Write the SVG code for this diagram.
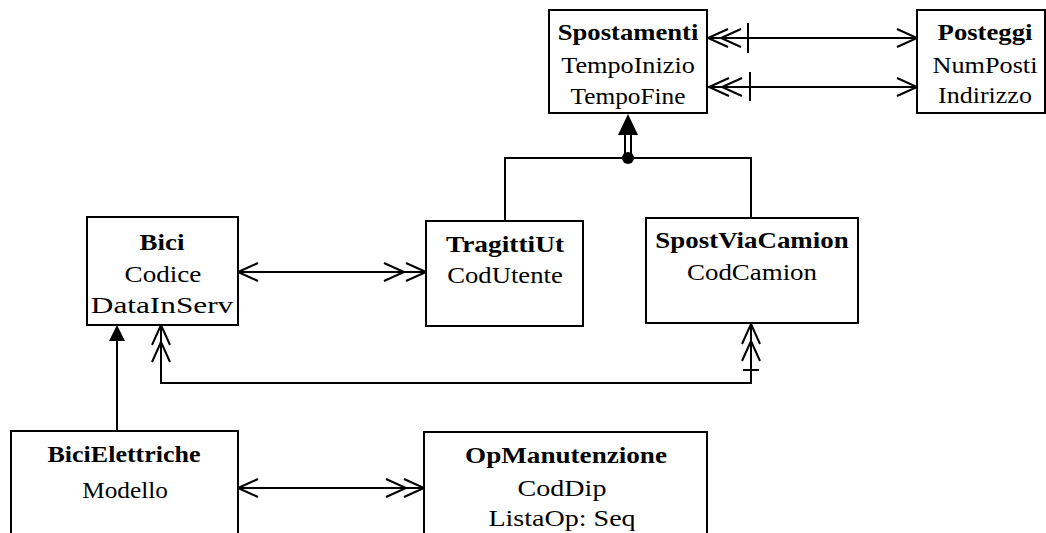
<svg xmlns="http://www.w3.org/2000/svg" xmlns:xlink="http://www.w3.org/1999/xlink" width="1046" height="533" viewBox="0 0 1046 533">
<style>
.box{fill:#fff;stroke:#000;stroke-width:2}
.ln{fill:none;stroke:#000;stroke-width:2}
.t{font-family:"Liberation Serif",serif;font-size:23px;text-anchor:middle;fill:#000}
.b{font-weight:bold}
</style>
<defs>
<path id="chev" d="M-20,-9 L0,0 L-20,9" fill="none" stroke="#000" stroke-width="2"/>
</defs>
<rect width="1046" height="533" fill="#fff"/>

<g id="connectors">
  <line class="ln" x1="707" y1="38" x2="917" y2="38"/>
  <use xlink:href="#chev" transform="translate(708,38) rotate(180)"/>
  <use xlink:href="#chev" transform="translate(721,38) rotate(180)"/>
  <line class="ln" x1="748" y1="23" x2="748" y2="53"/>
  <use xlink:href="#chev" transform="translate(917,38)"/>
  <line class="ln" x1="707" y1="87" x2="917" y2="87"/>
  <use xlink:href="#chev" transform="translate(709,87) rotate(180)"/>
  <use xlink:href="#chev" transform="translate(722,87) rotate(180)"/>
  <line class="ln" x1="750" y1="72" x2="750" y2="101"/>
  <use xlink:href="#chev" transform="translate(917,87)"/>
  <polyline class="ln" points="505,221 505,158 751,158 751,218"/>
  <line x1="625" y1="158" x2="625" y2="134" stroke="#000" stroke-width="2"/>
  <line x1="631" y1="158" x2="631" y2="134" stroke="#000" stroke-width="2"/>
  <polygon points="628,114 618,135 638,135" fill="#000"/>
  <circle cx="628" cy="158" r="6" fill="#000"/>
  <line class="ln" x1="238" y1="272" x2="426" y2="272"/>
  <use xlink:href="#chev" transform="translate(238,272) rotate(180)"/>
  <use xlink:href="#chev" transform="translate(404,272)"/>
  <use xlink:href="#chev" transform="translate(426,272)"/>
  <polyline class="ln" points="161,325 161,383 751,383 751,323"/>
  <use xlink:href="#chev" transform="translate(161,325) rotate(-90)"/>
  <use xlink:href="#chev" transform="translate(161,342) rotate(-90)"/>
  <use xlink:href="#chev" transform="translate(751,324) rotate(-90)"/>
  <use xlink:href="#chev" transform="translate(751,341) rotate(-90)"/>
  <line class="ln" x1="743" y1="370" x2="759" y2="370"/>
  <line class="ln" x1="117" y1="431" x2="117" y2="340"/>
  <polygon points="117,325 109,341 125,341" fill="#000"/>
  <line class="ln" x1="238" y1="488" x2="424" y2="488"/>
  <use xlink:href="#chev" transform="translate(238,488) rotate(180)"/>
  <use xlink:href="#chev" transform="translate(406,488)"/>
  <use xlink:href="#chev" transform="translate(424,488)"/>
</g>

<g id="spostamenti">
  <rect class="box" x="549" y="10" width="158" height="103"/>
  <text class="t b" transform="translate(628,40) scale(1.16,1)">Spostamenti</text>
  <text class="t" transform="translate(628,73) scale(1.14,1)">TempoInizio</text>
  <text class="t" transform="translate(628,104) scale(1.10,1)">TempoFine</text>
</g>
<g id="posteggi">
  <rect class="box" x="917" y="10" width="128" height="103"/>
  <text class="t b" transform="translate(985,40) scale(1.16,1)">Posteggi</text>
  <text class="t" transform="translate(985,73) scale(1.14,1)">NumPosti</text>
  <text class="t" transform="translate(985,103) scale(1.13,1)">Indirizzo</text>
</g>
<g id="bici">
  <rect class="box" x="87" y="217" width="151" height="108"/>
  <text class="t b" transform="translate(162,250) scale(1.17,1)">Bici</text>
  <text class="t" transform="translate(163,282) scale(1.18,1)">Codice</text>
  <text class="t" transform="translate(162,313) scale(1.36,1)">DataInServ</text>
</g>
<g id="tragittiut">
  <rect class="box" x="426" y="221" width="157" height="105"/>
  <text class="t b" transform="translate(505,252) scale(1.19,1)">TragittiUt</text>
  <text class="t" transform="translate(505,283) scale(1.16,1)">CodUtente</text>
</g>
<g id="spostviacamion">
  <rect class="box" x="646" y="218" width="212" height="105"/>
  <text class="t b" transform="translate(752,248) scale(1.17,1)">SpostViaCamion</text>
  <text class="t" transform="translate(752,280) scale(1.17,1)">CodCamion</text>
</g>
<g id="bicielettriche">
  <rect class="box" x="11" y="431" width="227" height="120"/>
  <text class="t b" transform="translate(124,462) scale(1.13,1)">BiciElettriche</text>
  <text class="t" transform="translate(125,498) scale(1.10,1)">Modello</text>
</g>
<g id="opmanutenzione">
  <rect class="box" x="424" y="432" width="283" height="120"/>
  <text class="t b" transform="translate(566,463) scale(1.18,1)">OpManutenzione</text>
  <text class="t" transform="translate(562,496) scale(1.22,1)">CodDip</text>
  <text class="t" transform="translate(562,526) scale(1.22,1)">ListaOp: Seq</text>
</g>
</svg>
